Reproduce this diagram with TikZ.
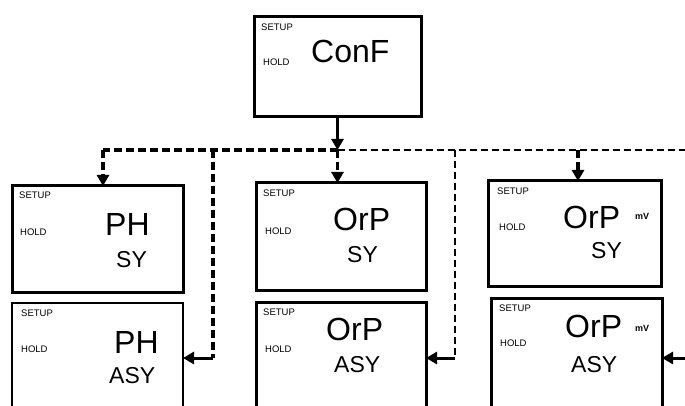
\documentclass[tikz,border=0pt]{standalone}
\usepackage{fontspec}
\setmainfont{Liberation Sans}
\usetikzlibrary{arrows.meta}

\begin{document}
\begin{tikzpicture}[
  x=1pt, y=-1pt,
  >={Triangle[length=11pt,width=12pt]},
  panel/.style={draw, line width=3pt, outer sep=0pt, inner sep=0pt, anchor=north west},
  thinpanel/.style={panel, line width=2.5pt},
  tag/.style={anchor=west, inner sep=0pt, font=\fontsize{9.5}{10}\selectfont},
  big/.style={anchor=base west, inner sep=0pt, font=\fontsize{32}{34}\selectfont},
  mode/.style={anchor=base west, inner sep=0pt, font=\fontsize{23}{25}\selectfont},
  unit/.style={anchor=west, inner sep=0pt, font=\fontsize{9}{10}\selectfont\bfseries},
  heavybus/.style={line width=3.5pt, dash pattern=on 8pt off 4pt},
  lightbus/.style={line width=2.5pt, dash pattern=on 7pt off 4pt},
  feed/.style={->, line width=3pt}
]

\useasboundingbox (0,0) rectangle (685,406);
\clip (0,0) rectangle (685,406);

% top menu
\node[panel, minimum width=167, minimum height=100] (conf) at (254,17) {};
\node[tag] (confsetup) at (261,27) {SETUP};
\node[tag] (confhold) at (263,62) {HOLD};
\node[big] (conftext) at (311,63) {ConF};

% pH
\node[panel, minimum width=171, minimum height=106] (phsy) at (12,186) {};
\node[tag] (phsysetup) at (19,195) {SETUP};
\node[tag] (phsyhold) at (20,232) {HOLD};
\node[big] (phsytext) at (105,235) {PH};
\node[mode] (phsymode) at (116,267) {SY};

\node[thinpanel, minimum width=171, minimum height=110] (phasy) at (12,303) {};
\node[tag] (phasysetup) at (21,313) {SETUP};
\node[tag] (phasyhold) at (21,349) {HOLD};
\node[big] (phasytext) at (114,353) {PH};
\node[mode] (phasymode) at (109,383) {ASY};

% ORP
\node[panel, minimum width=170, minimum height=107] (orpsy) at (256,183) {};
\node[tag] (orpsysetup) at (263,193) {SETUP};
\node[tag] (orpsyhold) at (265,231) {HOLD};
\node[big] (orpsytext) at (333,230) {OrP};
\node[mode] (orpsymode) at (347,262) {SY};

\node[panel, minimum width=170, minimum height=112] (orpasy) at (256,302) {};
\node[tag] (orpasysetup) at (263,312) {SETUP};
\node[tag] (orpasyhold) at (265,349) {HOLD};
\node[big] (orpasytext) at (326,340) {OrP};
\node[mode] (orpasymode) at (334,372) {ASY};

% ORP mV
\node[panel, minimum width=173, minimum height=105] (mvsy) at (488,181) {};
\node[tag] (mvsysetup) at (497,191) {SETUP};
\node[tag] (mvsyhold) at (499,227) {HOLD};
\node[big] (mvsytext) at (563,228) {OrP};
\node[unit] (mvsyunit) at (635,216) {mV};
\node[mode] (mvsymode) at (591,258) {SY};

\node[panel, minimum width=171, minimum height=120] (mvasy) at (491,298) {};
\node[tag] (mvasysetup) at (499,308) {SETUP};
\node[tag] (mvasyhold) at (500,343) {HOLD};
\node[big] (mvasytext) at (565,337) {OrP};
\node[unit] (mvasyunit) at (635,328) {mV};
\node[mode] (mvasymode) at (571,372) {ASY};

% bus
\coordinate (hub) at (conf.south |- 0,150);
\coordinate (busleft) at (103,150);
\coordinate (busright) at (685,150);
\coordinate (dropph) at (213,150);
\coordinate (droporp) at (455,150);
\coordinate (dropmv) at (578,150);
\coordinate (inmv) at (685,358);

\draw[feed] (conf.south) -- (hub);
\draw[heavybus] (hub) -- (busleft);
\draw[lightbus] (hub) -- (busright);

\draw[heavybus, ->] (busleft) -- (busleft |- phsy.north);
\draw[heavybus, ->] (hub) -- (hub |- orpsy.north);
\draw[heavybus, ->] (dropmv) -- (dropmv |- mvsy.north);

\draw[heavybus] (dropph) -- (dropph |- phasy.east);
\draw[feed] (dropph |- phasy.east) -- (phasy.east);
\draw[lightbus] (droporp) -- (droporp |- orpasy.east);
\draw[feed] (droporp |- orpasy.east) -- (orpasy.east);
\draw[feed] (inmv) -- (mvasy.east);

\end{tikzpicture}
\end{document}
